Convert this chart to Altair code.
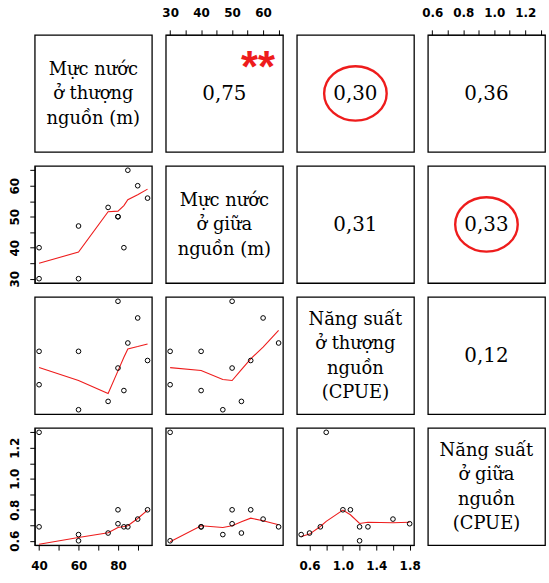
import altair as alt
import pandas as pd

# ---- observations (11 sites) ----
up_level = [40, 40, 60, 60, 75, 80, 80, 83, 85, 90, 95]
mid_level = [30, 40, 47, 30, 53, 50, 50, 40, 65, 60, 56]
up_cpue = [0.80, 1.20, 0.50, 1.20, 0.60, 1.00, 1.80, 0.73, 1.30, 1.60, 1.09]
mid_cpue = [1.30, 0.69, 0.64, 0.60, 0.65, 0.80, 0.71, 0.69, 0.69, 0.74, 0.80]

# ---- smoother lines ----
sx_up = [40, 60, 75, 80, 83, 85, 90, 95]
sx_mid = [30, 40, 47, 50, 53, 56, 60, 65]
sx_upc = [0.50, 0.60, 0.73, 0.80, 1.00, 1.09, 1.20, 1.30, 1.60, 1.80]
s_mid_vs_up = [35.0, 38.6, 51.6, 51.8, 53.6, 55.5, 57.1, 58.9]
s_upc_vs_up = [1.005, 0.85, 0.695, 0.966, 1.13, 1.229, 1.257, 1.289]
s_upc_vs_mid = [1.005, 0.97, 0.862, 0.85, 0.98, 1.11, 1.25, 1.45]
s_midc_vs_up = [0.578, 0.621, 0.652, 0.686, 0.692, 0.697, 0.744, 0.798]
s_midc_vs_mid = [0.594, 0.697, 0.686, 0.697, 0.723, 0.746, 0.729, 0.703]
s_midc_vs_upc = [0.628, 0.643, 0.692, 0.725, 0.798, 0.768, 0.712, 0.72, 0.716, 0.72]

# ---- text ----
diag_labels = [
    "Mực nước\nở thượng\nnguồn (m)",
    "Mực nước\nở giữa\nnguồn (m)",
    "Năng suất\nở thượng\nnguồn\n(CPUE)",
    "Năng suất\nở giữa\nnguồn\n(CPUE)",
]
corr_labels = {(0, 1): "0,75", (0, 2): "0,30", (0, 3): "0,36",
               (1, 2): "0,31", (1, 3): "0,33", (2, 3): "0,12"}
circled = [(0, 2), (1, 3)]
starred = [(0, 1)]

# ---- axis ticks ----
up_ticks = [40, 50, 60, 70, 80, 90]
up_shown = ["40", "60", "80"]
mid_ticks = [30, 35, 40, 45, 50, 55, 60, 65]
mid_shown = ["30", "40", "50", "60"]
upc_ticks = [0.6, 0.8, 1.0, 1.2, 1.4, 1.6, 1.8]
upc_shown = ["0.6", "1.0", "1.4", "1.8"]
midc_ticks = [0.6, 0.7, 0.8, 0.9, 1.0, 1.1, 1.2, 1.3]
midc_shown = ["0.6", "0.8", "1.0", "1.2"]

W = 118
LH = 24.5
RED = "#ee1c1c"
SERIF = "DejaVu Serif"


def pad_dom(v):
    lo, hi = min(v), max(v)
    d = (hi - lo) * 0.04
    return [lo - d, hi + d]


variables = [
    dict(v=up_level, ticks=up_ticks, shown=up_shown, fmt="d", sx=sx_up),
    dict(v=mid_level, ticks=mid_ticks, shown=mid_shown, fmt="d", sx=sx_mid),
    dict(v=up_cpue, ticks=upc_ticks, shown=upc_shown, fmt=".1f", sx=sx_upc),
    dict(v=mid_cpue, ticks=midc_ticks, shown=midc_shown, fmt=".1f", sx=None),
]
smooths = {(1, 0): s_mid_vs_up, (2, 0): s_upc_vs_up, (2, 1): s_upc_vs_mid,
           (3, 0): s_midc_vs_up, (3, 1): s_midc_vs_mid, (3, 2): s_midc_vs_upc}


def make_axis(var, orient):
    expr = "indexof(%s, datum.label) >= 0 ? datum.label : ''" % str(var["shown"])
    kw = dict(orient=orient, values=var["ticks"], format=var["fmt"], labelExpr=expr,
              labelOverlap=False, labelFlush=False, title=None, grid=False)
    if orient == "left":
        kw.update(labelAngle=270, labelAlign="center", labelBaseline="bottom", labelPadding=8)
    elif orient == "top":
        kw.update(labelPadding=10)
    else:
        kw.update(labelPadding=11)
    return alt.Axis(**kw)


def xenc(j, axis):
    return alt.X("x:Q", scale=alt.Scale(domain=pad_dom(variables[j]["v"]), nice=False, zero=False),
                 axis=axis)


def yenc(i, axis):
    return alt.Y("y:Q", scale=alt.Scale(domain=pad_dom(variables[i]["v"]), nice=False, zero=False),
                 axis=axis)


panels = []
for i in range(4):
    for j in range(4):
        xaxis = None
        yaxis = None
        if i == 0 and j % 2 == 1:
            xaxis = make_axis(variables[j], "top")
        if i == 3 and j % 2 == 0:
            xaxis = make_axis(variables[j], "bottom")
        if j == 0 and i % 2 == 1:
            yaxis = make_axis(variables[i], "left")
        layers = []
        if i > j:
            df = pd.DataFrame({"x": variables[j]["v"], "y": variables[i]["v"]})
            sm = pd.DataFrame({"x": variables[j]["sx"], "y": smooths[(i, j)]})
            layers.append(alt.Chart(sm).mark_line(color=RED, strokeWidth=1.1).encode(
                x=xenc(j, xaxis), y=yenc(i, yaxis)))
            layers.append(alt.Chart(df).mark_point(shape="circle", size=22, filled=False,
                                                   color="black", strokeWidth=1, opacity=1).encode(
                x=xenc(j, xaxis), y=yenc(i, yaxis)))
        else:
            if xaxis is not None:
                dom = pd.DataFrame({"x": pad_dom(variables[j]["v"])})
                layers.append(alt.Chart(dom).mark_point(opacity=0).encode(x=xenc(j, xaxis)))
            if i == j:
                lab = diag_labels[i]
                n = lab.count("\n") + 1
                txt = pd.DataFrame({"t": [lab]})
                layers.append(alt.Chart(txt).mark_text(
                    font=SERIF, fontSize=18, lineBreak="\n", lineHeight=LH,
                    color="black", align="center", baseline="middle").encode(
                    text="t:N", x=alt.value(W / 2), y=alt.value(W / 2 - (n - 1) * LH / 2 + 1)))
            else:
                txt = pd.DataFrame({"t": [corr_labels[(i, j)]]})
                layers.append(alt.Chart(txt).mark_text(
                    font=SERIF, fontSize=20, color="black",
                    align="center", baseline="middle").encode(
                    text="t:N", x=alt.value(W / 2), y=alt.value(W / 2 + 1)))
                if (i, j) in circled:
                    layers.append(alt.Chart(txt).mark_point(
                        shape="M-1,0A1,0.87,0,1,1,1,0A1,0.87,0,1,1,-1,0Z",
                        size=3969, filled=False, color=RED, strokeWidth=2.4, opacity=1).encode(
                        x=alt.value(W / 2), y=alt.value(W / 2)))
                if (i, j) in starred:
                    layers.append(alt.Chart(txt).mark_text(
                        font="Liberation Sans", fontSize=44, fontWeight="bold", color=RED,
                        align="center", baseline="alphabetic").encode(
                        text=alt.value("**"), x=alt.value(93), y=alt.value(48)))
        panels.append(alt.layer(*layers).properties(width=W, height=W))

chart = alt.concat(*panels, columns=4, spacing=14, bounds="flush").properties(
    padding={"left": 8, "top": 4, "right": 0, "bottom": 0}
).configure_view(
    stroke="black", strokeWidth=1.3
).configure_axis(
    domainColor="black", tickColor="black", labelColor="black",
    labelFont="DejaVu Sans", labelFontSize=12, labelFontWeight="bold",
    tickSize=5, domainWidth=1, tickWidth=1
)

chart.save("out.html", embed_options={"renderer": "svg", "actions": False})
